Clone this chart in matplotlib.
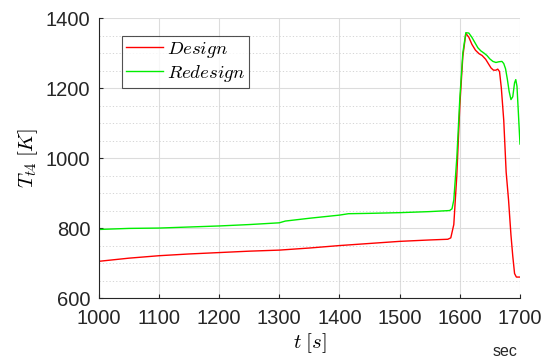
import matplotlib
matplotlib.use("Agg")
import matplotlib.pyplot as plt
from matplotlib.ticker import MultipleLocator

plt.rcParams['mathtext.fontset'] = 'cm'
plt.rcParams['font.family'] = ['Liberation Sans', 'DejaVu Sans']

# Design (red)
t_design = [1000, 1050, 1100, 1150, 1200, 1250, 1300, 1350, 1400, 1450, 1500, 1550,
            1580, 1585, 1590, 1595, 1600, 1605, 1610, 1615, 1620, 1626, 1632, 1637,
            1643, 1648, 1652, 1656, 1660, 1663, 1666, 1669, 1673, 1677, 1681, 1685,
            1688, 1691, 1694, 1700]
T_design = [705, 714, 721, 726, 730, 734, 737, 743, 750, 756, 762, 766,
            768, 772, 810, 950, 1150, 1290, 1356, 1345, 1325, 1308, 1298, 1293,
            1282, 1268, 1257, 1251, 1251, 1254, 1247, 1200, 1108, 960, 880, 780,
            720, 670, 660, 660]

# Redesign (green)
t_redesign = [1000, 1050, 1100, 1150, 1200, 1250, 1300, 1310, 1350, 1400, 1415, 1450,
              1500, 1550, 1583, 1587, 1590, 1595, 1600, 1605, 1610, 1615, 1620, 1625,
              1630, 1635, 1640, 1645, 1650, 1655, 1660, 1665, 1670, 1673, 1676, 1679,
              1682, 1685, 1688, 1691, 1693, 1695, 1697, 1700]
T_redesign = [796, 799, 800, 803, 806, 810, 815, 820, 828, 837, 841, 842,
              844, 847, 850, 855, 880, 1000, 1170, 1300, 1358, 1357, 1345, 1330,
              1315, 1306, 1300, 1293, 1283, 1276, 1273, 1275, 1276, 1270, 1255, 1225,
              1190, 1167, 1175, 1215, 1224, 1205, 1140, 1040]

fig = plt.figure(figsize=(5.52, 3.6), dpi=100)
ax = fig.add_axes([0.179, 0.172, 0.763, 0.778])

ax.plot(t_design, T_design, color='#ff0000', lw=1.0, label=r'$Design$')
ax.plot(t_redesign, T_redesign, color='#00ee00', lw=1.0, label=r'$Redesign$')

ax.set_xlim(1000, 1700)
ax.set_ylim(600, 1400)
ax.xaxis.set_major_locator(MultipleLocator(100))
ax.yaxis.set_major_locator(MultipleLocator(200))
ax.yaxis.set_minor_locator(MultipleLocator(50))

ax.grid(which='major', color='#dcdcdc', lw=0.8, ls='-')
ax.grid(which='minor', axis='y', color='#cfcfcf', lw=0.6, ls=(0, (1.5, 2.5)))
ax.set_axisbelow(True)

for s in ['top', 'right']:
    ax.spines[s].set_visible(False)
for s in ['left', 'bottom']:
    ax.spines[s].set_color('#262626')
    ax.spines[s].set_linewidth(0.8)

ax.tick_params(which='major', direction='in', length=3, width=0.8, colors='#262626',
               labelsize=14.5, labelcolor='#262626')
ax.tick_params(which='minor', length=0)
ax.tick_params(axis='x', pad=8)
ax.tick_params(axis='y', pad=6)

ax.set_xlabel(r'$t\;[s]$', fontsize=15, labelpad=2)
ax.set_ylabel(r'$T_{t4}\;[K]$', fontsize=15, labelpad=4)

leg = ax.legend(loc='upper left', bbox_to_anchor=(0.055, 0.935), fontsize=13.5,
                frameon=True, fancybox=False, edgecolor='#262626',
                handlelength=2.0, handletextpad=0.2, borderpad=0.2,
                labelspacing=0.15, borderaxespad=0)
leg.get_frame().set_linewidth(0.8)

fig.text(0.915, 0.003, 'sec', fontsize=11.5, color='#262626', ha='center', va='bottom')

fig.savefig('out.png', dpi=100)
